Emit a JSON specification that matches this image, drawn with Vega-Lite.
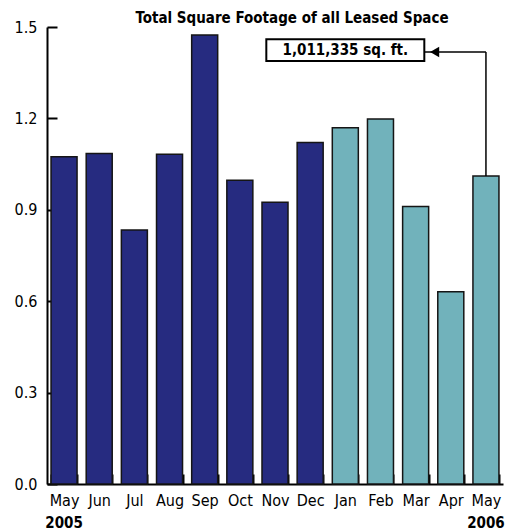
{
  "$schema": "https://vega.github.io/schema/vega-lite/v6.json",
  "width": 456,
  "height": 457,
  "autosize": "none",
  "padding": {"left": 47, "top": 27, "right": 11, "bottom": 47},
  "background": "white",
  "config": {
    "font": "DejaVu Sans Condensed",
    "view": {"stroke": null}
  },
  "title": {
    "text": "Total Square Footage of all Leased Space",
    "font": "DejaVu Sans Condensed",
    "fontSize": 15,
    "fontWeight": "bold",
    "color": "black",
    "anchor": "middle",
    "frame": "group",
    "dx": 17,
    "dy": 24,
    "offset": 2,
    "baseline": "bottom"
  },
  "datasets": {
    "leases": [
      {"period": "May 2005", "year": "2005", "value": 1.074},
      {"period": "Jun 2005", "year": "2005", "value": 1.085},
      {"period": "Jul 2005", "year": "2005", "value": 0.834},
      {"period": "Aug 2005", "year": "2005", "value": 1.082},
      {"period": "Sep 2005", "year": "2005", "value": 1.474},
      {"period": "Oct 2005", "year": "2005", "value": 0.997},
      {"period": "Nov 2005", "year": "2005", "value": 0.925},
      {"period": "Dec 2005", "year": "2005", "value": 1.121},
      {"period": "Jan 2006", "year": "2006", "value": 1.169},
      {"period": "Feb 2006", "year": "2006", "value": 1.198},
      {"period": "Mar 2006", "year": "2006", "value": 0.911},
      {"period": "Apr 2006", "year": "2006", "value": 0.631},
      {"period": "May 2006", "year": "2006", "value": 1.011335}
    ],
    "note": [{"label": "1,011,335 sq. ft."}]
  },
  "resolve": {"axis": {"x": "independent", "y": "shared"}},
  "layer": [
    {
      "data": {"name": "leases"},
      "mark": {"type": "bar", "stroke": "#151515", "strokeWidth": 1.5},
      "encoding": {
        "x": {
          "field": "period",
          "type": "ordinal",
          "scale": {
            "domain": ["May 2005", "Jun 2005", "Jul 2005", "Aug 2005", "Sep 2005", "Oct 2005", "Nov 2005", "Dec 2005", "Jan 2006", "Feb 2006", "Mar 2006", "Apr 2006", "May 2006"],
            "paddingInner": 0.26,
            "paddingOuter": 0.115
          },
          "axis": {
            "orient": "bottom",
            "title": null,
            "labelAngle": 0,
            "labelExpr": "datum.value ? split(datum.value, ' ')[0] : ''",
            "labelFont": "DejaVu Sans Condensed",
            "labelFontSize": 16,
            "labelColor": "black",
            "labelPadding": 18,
            "labelBaseline": "top",
            "tickBand": "extent",
            "tickSize": -10,
            "tickWidth": 2,
            "tickColor": "black",
            "domainColor": "black",
            "domainWidth": 2,
            "grid": false
          }
        },
        "y": {
          "field": "value",
          "type": "quantitative",
          "scale": {"domain": [0, 1.5], "nice": false},
          "axis": {
            "title": null,
            "values": [0, 0.3, 0.6, 0.9, 1.2, 1.5],
            "format": ".1f",
            "labelFont": "DejaVu Sans Condensed",
            "labelFontSize": 16,
            "labelColor": "black",
            "labelPadding": 20,
            "tickSize": -10,
            "tickWidth": 2,
            "tickColor": "black",
            "domainColor": "black",
            "domainWidth": 2,
            "grid": false
          }
        },
        "color": {
          "field": "year",
          "type": "nominal",
          "scale": {"domain": ["2005", "2006"], "range": ["#262b80", "#71b2bb"]},
          "legend": null
        }
      }
    },
    {
      "data": {"name": "leases"},
      "mark": {"type": "point", "opacity": 0},
      "encoding": {
        "x": {
          "field": "period",
          "type": "ordinal",
          "axis": {
            "orient": "bottom",
            "title": null,
            "labelAngle": 0,
            "labelExpr": "datum.value == 'May 2005' ? '2005' : (datum.value == 'May 2006' ? '2006' : '')",
            "labelFont": "DejaVu Sans Condensed",
            "labelFontSize": 15,
            "labelFontWeight": "bold",
            "labelColor": "black",
            "labelPadding": 31,
            "labelBaseline": "top",
            "ticks": false,
            "domain": false,
            "grid": false
          }
        },
        "y": {"field": "value", "type": "quantitative"}
      }
    },
    {
      "data": {"name": "note"},
      "mark": {"type": "rule", "color": "black", "strokeWidth": 1.5},
      "encoding": {
        "x": {"datum": "Jan 2006", "type": "ordinal", "axis": null},
        "x2": {"datum": "May 2006"},
        "y": {"datum": 1.418, "type": "quantitative"}
      }
    },
    {
      "data": {"name": "note"},
      "mark": {"type": "rule", "color": "black", "strokeWidth": 1.5},
      "encoding": {
        "x": {"datum": "May 2006", "type": "ordinal", "axis": null},
        "y": {"datum": 1.011335, "type": "quantitative"},
        "y2": {"datum": 1.418}
      }
    },
    {
      "data": {"name": "note"},
      "mark": {"type": "bar", "width": 158, "fill": "white", "stroke": "black", "strokeWidth": 2},
      "encoding": {
        "x": {"datum": "Jan 2006", "type": "ordinal", "axis": null},
        "y": {"datum": 1.388, "type": "quantitative"},
        "y2": {"datum": 1.46}
      }
    },
    {
      "data": {"name": "note"},
      "mark": {"type": "text", "font": "DejaVu Sans Condensed", "fontSize": 15, "fontWeight": "bold", "color": "black", "align": "center", "baseline": "middle"},
      "encoding": {
        "x": {"datum": "Jan 2006", "type": "ordinal", "axis": null},
        "y": {"datum": 1.424, "type": "quantitative"},
        "text": {"field": "label"}
      }
    },
    {
      "data": {"name": "note"},
      "mark": {"type": "point", "shape": "triangle-left", "filled": true, "color": "black", "size": 110, "opacity": 1, "xOffset": 19},
      "encoding": {
        "x": {"datum": "Mar 2006", "type": "ordinal", "axis": null},
        "y": {"datum": 1.418, "type": "quantitative"}
      }
    }
  ]
}
